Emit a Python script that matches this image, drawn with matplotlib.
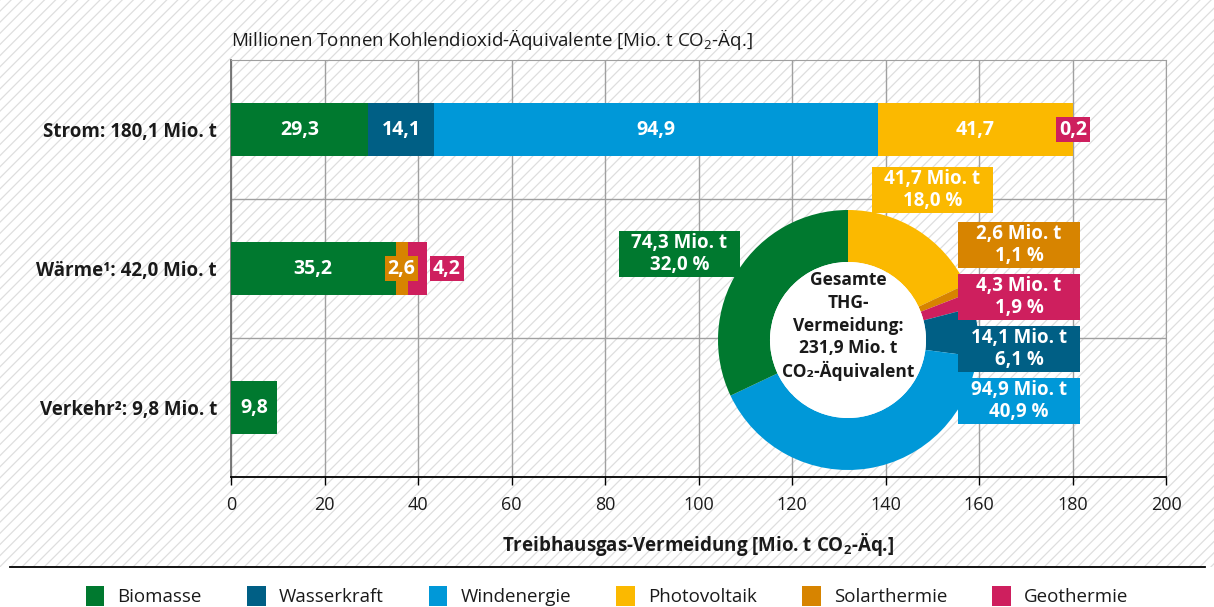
import matplotlib
matplotlib.use('Agg')
import matplotlib.pyplot as plt
from matplotlib.patches import Rectangle, Circle, Patch
from matplotlib.lines import Line2D
from matplotlib import font_manager
import numpy as np

# Sektoren (Balken) und Energieträger
sectors = ['Strom: 180,1 Mio. t', 'Wärme\u00b9: 42,0 Mio. t', 'Verkehr\u00b2: 9,8 Mio. t']
sources = ['Biomasse', 'Wasserkraft', 'Windenergie', 'Photovoltaik', 'Solarthermie', 'Geothermie']
colors = ['#00792F', '#005F85', '#0098D8', '#FBB900', '#D78400', '#CE1F5E']

# Werte je Sektor in Reihenfolge der Energieträger
strom = [29.3, 14.1, 94.9, 41.7, 0.0, 0.2]
waerme = [35.2, 0.0, 0.0, 0.0, 2.6, 4.2]
verkehr = [9.8, 0.0, 0.0, 0.0, 0.0, 0.0]

# Ring: Gesamtvermeidung je Energieträger, im Uhrzeigersinn ab 12 Uhr
ring_sources = ['Photovoltaik', 'Solarthermie', 'Geothermie', 'Wasserkraft', 'Windenergie', 'Biomasse']
ring_values = [41.7, 2.6, 4.3, 14.1, 94.9, 74.3]

x_ticks = [0, 20, 40, 60, 80, 100, 120, 140, 160, 180, 200]

names = {f.name for f in font_manager.fontManager.ttflist}
family = 'Liberation Sans Narrow' if 'Liberation Sans Narrow' in names else 'Open Sans'
plt.rcParams['font.family'] = [family, 'DejaVu Sans']
plt.rcParams['mathtext.fontset'] = 'custom'
plt.rcParams['mathtext.rm'] = family
plt.rcParams['mathtext.bf'] = family + ':bold'
plt.rcParams['hatch.color'] = '#DEDEDE'
plt.rcParams['hatch.linewidth'] = 0.9

W, H = 1214, 607
fig = plt.figure(figsize=(W / 100, H / 100), dpi=100)
fig.patch.set_facecolor('white')


def fx(px):
    return px / W


def fy(py):
    return 1 - py / H


def de(v):
    return f'{v:.1f}'.replace('.', ',')


# schraffierter Hintergrund oberhalb der Legende
fig.add_artist(Rectangle((0, fy(567)), 1, 1 - fy(567), transform=fig.transFigure,
                         facecolor='white', hatch='///', linewidth=0, zorder=-10))
fig.add_artist(Line2D([fx(10), fx(1205)], [fy(567), fy(567)], transform=fig.transFigure,
                      color='black', linewidth=1.3))

ax = fig.add_axes([fx(231), fy(477), fx(1166) - fx(231), fy(60) - fy(477)])
ax.set_facecolor('none')

txt = '#1a1a1a'
data = np.array([strom, waerme, verkehr])
y = np.arange(len(sectors))
left = np.zeros(len(sectors))
bar_h = 0.38
for j, src in enumerate(sources):
    ax.barh(y, data[:, j], left=left, height=bar_h, color=colors[j], zorder=3, linewidth=0)
    left += data[:, j]

lab = dict(color='white', fontweight='bold', fontsize=14, ha='center', va='center', zorder=5)

# Beschriftungen der Segmente
for i in range(len(sectors)):
    start = 0
    for j in range(len(sources)):
        v = data[i, j]
        if v <= 0:
            continue
        box = dict(boxstyle='square,pad=0.15', facecolor=colors[j], edgecolor='none')
        if v >= 8:
            ax.text(start + v / 2, i, de(v), **lab)
        elif j == 5 and v > 1:
            ax.text(start + v + 4.2, i, de(v), **lab, bbox=box)
        else:
            ax.text(start + v / 2, i, de(v), **lab, bbox=box)
        start += v

ax.set_xlim(0, 200)
ax.set_ylim(2.5, -0.5)
ax.set_xticks(x_ticks)
ax.set_xticklabels([str(t) for t in x_ticks], fontsize=13, color=txt)
ax.set_yticks(y)
ax.set_yticklabels(sectors, fontsize=13.5, fontweight='bold', color=txt)
ax.tick_params(axis='y', length=0, pad=10)
ax.tick_params(axis='x', direction='out', length=6, width=1, color='black', pad=8)
ax.set_yticks([0.5, 1.5], minor=True)
ax.tick_params(axis='y', which='minor', length=0)
ax.grid(axis='x', color='#A0A0A0', linewidth=1, zorder=1)
ax.grid(axis='y', which='minor', color='#A0A0A0', linewidth=1, zorder=1)
ax.set_axisbelow(True)
for side in ['top', 'right']:
    ax.spines[side].set_color('#A0A0A0')
ax.spines['left'].set_color('#707070')
ax.spines['left'].set_linewidth(1.3)
ax.spines['bottom'].set_color('black')
ax.spines['bottom'].set_linewidth(1.3)

ax.set_xlabel('Treibhausgas-Vermeidung [Mio. t CO$_\\mathbf{2}$-Äq.]', fontsize=13.5,
              fontweight='bold', color=txt, labelpad=12)
fig.text(fx(231), fy(40), 'Millionen Tonnen Kohlendioxid-Äquivalente [Mio. t CO$_2$-Äq.]',
         fontsize=13.5, color=txt, ha='left', va='center')

# Ringdiagramm
cx, cy, r = 848, 340, 130
pax = fig.add_axes([fx(cx - r), fy(cy + r), fx(2 * r), fy(cy - r) - fy(cy + r)])
ring_colors = [colors[sources.index(s)] for s in ring_sources]
pax.pie(ring_values, colors=ring_colors, startangle=90, counterclock=False, radius=1,
        wedgeprops=dict(width=0.4, linewidth=0))
pax.add_patch(Circle((0, 0), 0.6, facecolor='white', edgecolor='none', zorder=4))
pax.set_xlim(-1, 1)
pax.set_ylim(-1, 1)
pax.set_aspect('auto')
pax.axis('off')

total = sum(ring_values)
center_lines = ['Gesamte', 'THG-', 'Vermeidung:', de(total) + ' Mio. t', 'CO\u2082-Äquivalent']
for k, line in enumerate(center_lines):
    pax.text(0, 0.11 + (2 - k) * 0.175, line, ha='center', va='center', fontsize=12.5,
             fontweight='bold', color=txt, zorder=5)

# Wertekästen am Ring (linke obere Ecke, Breite, Höhe in Pixel)
boxes = {
    'Photovoltaik': (872, 167, 121, 46),
    'Biomasse': (619, 231, 121, 46),
    'Solarthermie': (958, 222, 122, 46),
    'Geothermie': (958, 274, 122, 46),
    'Wasserkraft': (958, 326, 122, 46),
    'Windenergie': (958, 378, 122, 46),
}
for s, v in zip(ring_sources, ring_values):
    bx, by, bw, bh = boxes[s]
    c = colors[sources.index(s)]
    fig.add_artist(Rectangle((fx(bx), fy(by + bh)), fx(bw), fy(by) - fy(by + bh),
                             transform=fig.transFigure, facecolor=c, edgecolor='none', zorder=6))
    fig.text(fx(bx + bw / 2), fy(by + bh / 2), f'{de(v)} Mio. t\n{de(v / total * 100)} %',
             ha='center', va='center', fontsize=13.5, fontweight='bold', color='white',
             linespacing=1.15, zorder=7)

# Legende
handles = [Patch(facecolor=c, edgecolor='none') for c in colors]
fig.legend(handles, sources, loc='center', bbox_to_anchor=(0.5, fy(596)), ncol=6,
           frameon=False, fontsize=13.5, handlelength=1.0, handleheight=1.3,
           handletextpad=0.7, columnspacing=2.4, labelcolor=txt)

fig.savefig('out.png', dpi=100)
